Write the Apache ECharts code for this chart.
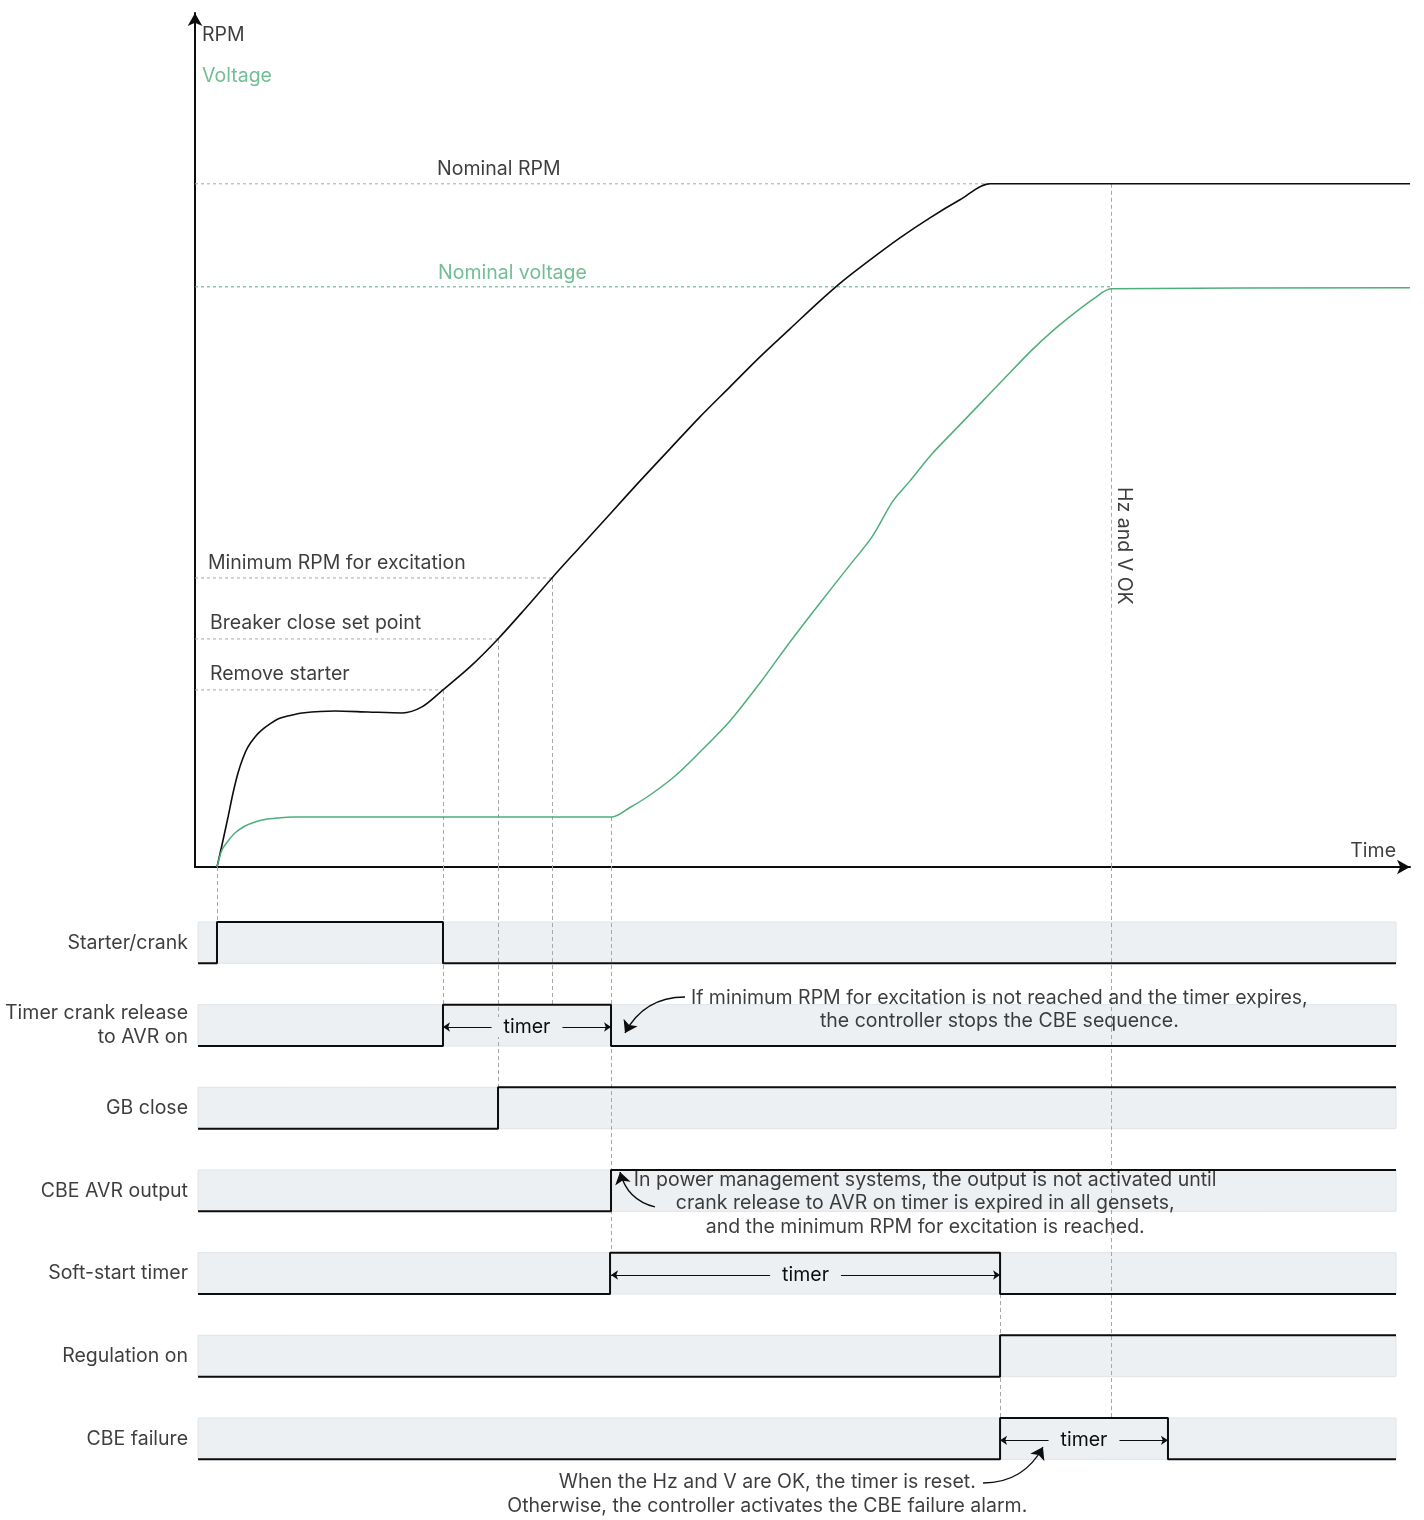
<!DOCTYPE html>
<html>
<head>
<meta charset="utf-8">
<script src="https://cdn.jsdelivr.net/npm/echarts@6/dist/echarts.min.js"></script>
<style>
  html, body { margin: 0; padding: 0; background: #fff; }
  #main { width: 1424px; height: 1520px; }
</style>
</head>
<body>
<div id="main"></div>
<script>
// time runs 0..100 along both grids; speed axis 0..125 with nominal RPM = 100
const rpmCurve = [[1.81,0],[2.22,3.22],[2.72,7.32],[3.13,10.83],[3.54,13.76],[3.95,15.96],[4.36,17.57],
  [4.94,19.03],[5.51,20.06],[6.17,20.94],[6.83,21.67],[7.82,22.18],[8.81,22.55],[11.52,22.84],[14.24,22.69],
  [17.04,22.55],[18.68,23.43],[20.41,25.92],[22.63,29.28],[24.94,33.38],[27.16,37.77],[29.38,42.31],
  [31.69,46.85],[34.16,51.68],[36.63,56.52],[39.09,61.20],[41.56,65.89],[44.03,70.28],[46.50,74.67],
  [48.97,78.77],[51.44,82.87],[53.33,85.80],[55.56,88.87],[58.02,92.09],[60.49,95.02],[62.96,97.66],
  [65.43,100],[100,100]];
const voltageCurve = [[1.81,0],[2.22,2.49],[2.72,3.81],[3.29,4.98],[4.12,6.00],[4.94,6.59],[5.76,6.95],
  [6.83,7.17],[7.98,7.32],[34.32,7.32],[35.80,8.71],[37.45,10.54],[39.51,13.32],[41.56,16.84],[44.03,21.38],
  [46.50,26.94],[48.97,32.94],[51.44,38.65],[53.91,44.22],[55.72,48.32],[57.45,53.59],[58.85,56.52],
  [60.58,60.32],[62.55,63.98],[64.53,67.64],[66.67,71.60],[68.81,75.55],[70.78,78.77],[72.51,81.26],
  [74.07,83.31],[75.39,84.63],[100,84.77]];

// set points and where the curves reach them
const levelNames = ['Nominal RPM', 'Nominal voltage', 'Minimum RPM for excitation', 'Breaker close set point', 'Remove starter'];
const levelValues = [100, 84.92, 42.31, 33.38, 25.92];
const levelReached = [65.43, 75.39, 29.38, 24.94, 20.41];

// timing rows
const signalNames = ['Starter/crank', 'Timer crank release\nto AVR on', 'GB close', 'CBE AVR output',
  'Soft-start timer', 'Regulation on', 'CBE failure'];
const signalToggles = [[1.81, 20.41], [20.41, 34.24], [24.94], [34.24], [34.16, 66.26], [66.26], [66.26, 80.08]];
const timerRows = [1, 4, 6];
const timerFrom = [20.41, 34.24, 66.26];
const timerTo = [34.24, 66.26, 80.08];

// dashed guides between curve events and the rows
const guideTimes = [1.81, 20.41, 24.94, 29.38, 34.24, 66.26, 75.39];
const guideSpeed = [0, 25.92, 33.38, 42.31, 7.32, 0, 100];
const guideFromRow = [-0.665, -0.665, -0.665, -0.665, -0.665, 4.5, -0.665];
const guideToRow = [0, 1, 2, 1, 4, 6, 6];

const T_START = 0.25, T_END = 98.85;
const ink = '#0d0d0d', green = '#4fae7b', grey = '#a8a8a8', band = '#edf0f3';
const FONT = 'Inter';
const FS = 19.5;

const rowY = (i, level) => level ? i : i + 0.5;

const chart = echarts.init(document.getElementById('main'), null, { renderer: 'canvas' });

const signalSeries = signalNames.map((name, i) => {
  let level = 0;
  const pts = [[T_START, rowY(i, 0)]];
  signalToggles[i].forEach(t => {
    pts.push([t, rowY(i, level)]);
    level = 1 - level;
    pts.push([t, rowY(i, level)]);
  });
  pts.push([T_END, rowY(i, level)]);
  return {
    type: 'line', name: name, xAxisIndex: 1, yAxisIndex: 1, data: pts,
    showSymbol: false, silent: true, clip: false, z: 4,
    lineStyle: { color: ink, width: 2 }
  };
});

// dotted set-point lines, drawn from the left axis to where the curve reaches them
const levelSeries = levelValues.map((v, i) => ({
  type: 'line', name: levelNames[i], data: [[0, v], [levelReached[i], v]],
  showSymbol: false, silent: true, z: 2,
  lineStyle: { color: i === 1 ? green : grey, width: 1, type: [3, 3] }
}));

const dashed = { color: grey, width: 1, type: [4, 3] };

const topLabels = [
  { value: [0.58, 121.8], name: 'RPM' },
  { value: [0.58, 115.8], name: 'Voltage', label: { color: green } },
  { value: [19.92, 102.2], name: levelNames[0] },
  { value: [20.0, 86.97], name: levelNames[1], label: { color: green } },
  { value: [1.07, 44.51], name: levelNames[2] },
  { value: [1.23, 35.72], name: levelNames[3] },
  { value: [1.23, 28.26], name: levelNames[4] },
  { value: [98.85, 2.34], name: 'Time', label: { position: 'left' } },
  { value: [76.45, 47.0], name: 'Hz and V OK', label: { position: 'inside', rotate: -90 } }
];

const notes = [
  { value: [66.2, 1.06], name: 'If minimum RPM for excitation is not reached and the timer expires,\nthe controller stops the CBE sequence.' },
  { value: [60.1, 3.405], name: 'In power management systems, the output is not activated until\ncrank release to AVR on timer is expired in all gensets,\nand the minimum RPM for excitation is reached.' },
  { value: [47.1, 6.92], name: 'When the Hz and V are OK, the timer is reset.\nOtherwise, the controller activates the CBE failure alarm.' }
];

// curved pointers from the notes
const pointers = [
  { coords: [[40.33, 0.907], [35.39, 1.343]], lineStyle: { curveness: -0.3 } },
  { coords: [[37.86, 3.447], [34.98, 3.024]], lineStyle: { curveness: 0.3 } },
  { coords: [[64.86, 6.786], [69.79, 6.351]], lineStyle: { curveness: -0.3 } }
];

const option = {
  animation: false,
  textStyle: { fontFamily: FONT },
  grid: [
    { left: 195, top: 13, width: 1215, height: 854 },
    { left: 195, top: 860, width: 1215, height: 651 }
  ],
  xAxis: [
    { type: 'value', gridIndex: 0, min: 0, max: 100,
      axisLine: { onZero: false, symbol: ['none', 'arrow'], symbolSize: [11, 13], lineStyle: { color: ink, width: 2 } },
      axisTick: { show: false }, axisLabel: { show: false }, splitLine: { show: false } },
    { type: 'value', gridIndex: 1, min: 0, max: 100, show: false }
  ],
  yAxis: [
    { type: 'value', gridIndex: 0, min: 0, max: 125,
      axisLine: { show: true, onZero: false, symbol: ['none', 'arrow'], symbolSize: [11, 13], lineStyle: { color: ink, width: 2 } },
      axisTick: { show: false }, axisLabel: { show: false }, splitLine: { show: false } },
    { type: 'value', gridIndex: 1, min: -0.75, max: 7.125, inverse: true, show: false }
  ],
  series: [
    {
      type: 'line', name: 'RPM', data: rpmCurve, smooth: 0.3, showSymbol: false, silent: true, z: 3,
      lineStyle: { color: ink, width: 1.6 }
    },
    {
      type: 'line', name: 'Voltage', data: voltageCurve, smooth: 0.3, showSymbol: false, silent: true, z: 3,
      lineStyle: { color: green, width: 1.5 }
    },
    ...levelSeries,
    {
      // labels of the speed chart and the upper parts of the guides
      type: 'scatter', data: topLabels, symbolSize: 0, silent: true, z: 6,
      label: { show: true, position: 'right', distance: 0, formatter: '{b}', color: ink, fontSize: FS },
      markLine: {
        silent: true, symbol: 'none', z: 2, label: { show: false }, lineStyle: dashed,
        data: guideTimes.map((t, i) => [t, guideSpeed[i]]).filter(g => g[1] > 0).map(g =>
          [{ coord: [g[0], g[1]] }, { coord: [g[0], 0] }])
      }
    },
    {
      // row bands and the lower parts of the guides
      type: 'scatter', xAxisIndex: 1, yAxisIndex: 1, symbolSize: 0, silent: true, z: 6,
      data: signalNames.map((n, i) => ({ value: [0, i + 0.25], name: n })),
      label: { show: true, position: 'left', distance: 7, formatter: '{b}', color: ink, fontSize: FS, align: 'right', lineHeight: 24 },
      markArea: {
        silent: true, z: 1,
        itemStyle: { color: band, borderColor: '#e1e4e7', borderWidth: 1 },
        data: signalNames.map((n, i) => [{ coord: [T_START, i] }, { coord: [T_END, i + 0.5] }])
      },
      markLine: {
        silent: true, symbol: 'none', z: 2, label: { show: false }, lineStyle: dashed,
        data: guideTimes.map((t, i) => [{ coord: [t, guideFromRow[i]] }, { coord: [t, guideToRow[i]] }])
      }
    },
    ...signalSeries,
    {
      // timers and notes
      type: 'scatter', xAxisIndex: 1, yAxisIndex: 1, symbolSize: 0, silent: true, z: 6, data: notes,
      label: { show: true, position: 'inside', formatter: '{b}', color: ink, fontSize: FS, lineHeight: 23.5, align: 'center' },
      markLine: {
        silent: true, z: 5, symbol: ['arrow', 'arrow'], symbolSize: 7,
        lineStyle: { color: ink, width: 1.2, type: 'solid' },
        label: { show: true, position: 'middle', distance: 0, verticalAlign: 'middle', formatter: 'timer',
          color: ink, fontSize: FS, fontFamily: FONT, backgroundColor: band, padding: [0, 12] },
        data: timerRows.map((r, i) => [{ coord: [timerFrom[i], r + 0.27] }, { coord: [timerTo[i], r + 0.27] }])
      }
    },
    {
      type: 'lines', coordinateSystem: 'cartesian2d', xAxisIndex: 1, yAxisIndex: 1, silent: true, z: 5,
      symbol: ['none', 'arrow'], symbolSize: 12,
      lineStyle: { color: ink, width: 1.3, opacity: 1 },
      data: pointers
    }
  ]
};

chart.setOption(option);
</script>
</body>
</html>
